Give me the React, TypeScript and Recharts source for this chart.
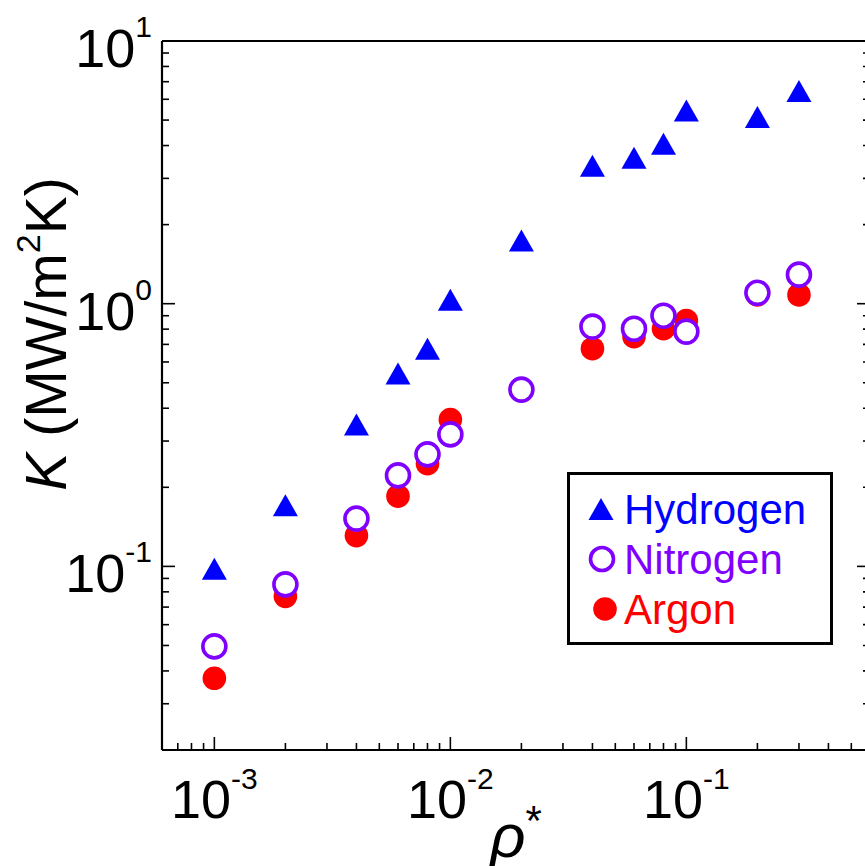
import React from "react";
import { ScatterChart, Scatter, XAxis, YAxis, Legend } from "recharts";

// reduced density rho* (x) and conductance K in MW/m^2K (y)
const rho = [0.001, 0.002, 0.004, 0.006, 0.008, 0.01, 0.02, 0.04, 0.06, 0.08, 0.1, 0.2, 0.3];
const hydrogen = [0.098, 0.171, 0.347, 0.542, 0.674, 1.036, 1.74, 3.35, 3.59, 4.06, 5.44, 5.14, 6.45];
const nitrogen = [0.0496, 0.0854, 0.152, 0.222, 0.267, 0.318, 0.471, 0.818, 0.803, 0.9, 0.783, 1.1, 1.29];
const argon = [0.0375, 0.0769, 0.131, 0.185, 0.246, 0.362, 0.47, 0.674, 0.749, 0.803, 0.862, 1.08, 1.08];

const xMajor = [0.001, 0.01, 0.1];
const xExp = ["-3", "-2", "-1"];
const xMinor = [
  0.0007, 0.0008, 0.0009,
  0.002, 0.003, 0.004, 0.005, 0.006, 0.007, 0.008, 0.009,
  0.02, 0.03, 0.04, 0.05, 0.06, 0.07, 0.08, 0.09,
  0.2, 0.3, 0.4, 0.5,
];
const yMajor = [0.1, 1, 10];
const yExp = ["-1", "0", "1"];
const yMinor = [
  0.03, 0.04, 0.05, 0.06, 0.07, 0.08, 0.09,
  0.2, 0.3, 0.4, 0.5, 0.6, 0.7, 0.8, 0.9,
  2, 3, 4, 5, 6, 7, 8, 9,
];

const FONT = "'Liberation Sans', Arial, sans-serif";
const BLUE = "#0000ff";
const PURPLE = "#7f00ff";
const RED = "#ff0000";

const toPoints = (ys: number[]) => rho.map((x, i) => ({ x, y: ys[i] }));

const xTicks = [...xMajor, ...xMinor];
const yTicks = [...yMajor, ...yMinor];

function Triangle({ cx, cy, fill }: any) {
  return (
    <polygon
      points={`${cx},${cy - 11} ${cx - 12.5},${cy + 11} ${cx + 12.5},${cy + 11}`}
      fill={fill}
    />
  );
}

function Ring({ cx, cy }: any) {
  return <circle cx={cx} cy={cy} r={11.5} fill="#fff" stroke={PURPLE} strokeWidth={3.6} />;
}

function Dot({ cx, cy }: any) {
  return <circle cx={cx} cy={cy} r={11.8} fill={RED} />;
}

function BottomTick({ x, y, payload }: any) {
  const i = xMajor.indexOf(payload.value);
  const len = i >= 0 ? 13 : 7;
  return (
    <g>
      <line x1={x} y1={y} x2={x} y2={y - len} stroke="#000" strokeWidth={1.6} />
      {i >= 0 && (
        <text x={x} y={y + 68} textAnchor="middle" fontSize={54} fontFamily={FONT} fill="#000">
          10<tspan dy={-29} fontSize={30}>{xExp[i]}</tspan>
        </text>
      )}
    </g>
  );
}

function TopTick({ x, y, payload }: any) {
  const len = xMajor.includes(payload.value) ? 13 : 7;
  return <line x1={x} y1={y} x2={x} y2={y + len} stroke="#000" strokeWidth={1.6} />;
}

function LeftTick({ x, y, payload }: any) {
  const i = yMajor.indexOf(payload.value);
  const len = i >= 0 ? 13 : 7;
  return (
    <g>
      <line x1={x} y1={y} x2={x + len} y2={y} stroke="#000" strokeWidth={1.6} />
      {i >= 0 && (
        <text x={x - 10} y={y + 26} textAnchor="end" fontSize={54} fontFamily={FONT} fill="#000">
          10<tspan dy={-30} fontSize={30}>{yExp[i]}</tspan>
        </text>
      )}
    </g>
  );
}

function RightTick({ x, y, payload }: any) {
  const len = yMajor.includes(payload.value) ? 13 : 7;
  return <line x1={x} y1={y} x2={x - len} y2={y} stroke="#000" strokeWidth={1.6} />;
}

function YTitle() {
  const x = 66;
  const y = 334;
  return (
    <text
      x={x}
      y={y}
      transform={`rotate(-90 ${x} ${y})`}
      textAnchor="middle"
      fontSize={57}
      fontFamily={FONT}
      fill="#000"
    >
      <tspan fontStyle="italic">K</tspan> (MW/m<tspan dy={-26} fontSize={34}>2</tspan>
      <tspan dy={26}>K)</tspan>
    </text>
  );
}

function XTitle() {
  return (
    <text x={516} y={857} textAnchor="middle" fontSize={62} fontFamily={FONT} fill="#000">
      <tspan fontStyle="italic">ρ</tspan>
      <tspan dy={-22} fontSize={42}>*</tspan>
    </text>
  );
}

const legendItems = [
  { name: "Hydrogen", color: BLUE },
  { name: "Nitrogen", color: PURPLE },
  { name: "Argon", color: RED },
];

function LegendBox() {
  return (
    <svg width={268} height={175} style={{ display: "block" }}>
      <rect x={1.5} y={1.5} width={263} height={170} fill="#fff" stroke="#000" strokeWidth={3} />
      {legendItems.map((item, i) => {
        const cy = 37 + i * 50;
        return (
          <g key={item.name}>
            {i === 0 && <Triangle cx={34} cy={cy} fill={item.color} />}
            {i === 1 && <Ring cx={35} cy={cy} />}
            {i === 2 && <Dot cx={38} cy={cy} />}
            <text x={57} y={cy + 15} fontSize={42} fontFamily={FONT} fill={item.color}>
              {item.name}
            </text>
          </g>
        );
      })}
    </svg>
  );
}

export default function App() {
  return (
    <div style={{ width: 865, height: 866, overflow: "hidden", background: "#fff", position: "relative" }}>
      <style>{`body{margin:0}`}</style>
      <ScatterChart
        width={875}
        height={866}
        margin={{ top: 0, left: 0, right: 0, bottom: 0 }}
      >
        <XAxis
          xAxisId={0}
          dataKey="x"
          type="number"
          scale="log"
          domain={[0.0006, 0.6]}
          allowDataOverflow
          ticks={xTicks}
          interval={0}
          height={116}
          tickSize={0}
          tickMargin={0}
          tickLine={false}
          tick={(p: any) => <BottomTick {...p} />}
          axisLine={{ stroke: "#000", strokeWidth: 2.2 }}
        />
        <XAxis
          xAxisId="top"
          orientation="top"
          type="number"
          scale="log"
          domain={[0.0006, 0.6]}
          allowDataOverflow
          ticks={xTicks}
          interval={0}
          height={41}
          tickSize={0}
          tickMargin={0}
          tickLine={false}
          tick={(p: any) => <TopTick {...p} />}
          axisLine={{ stroke: "#000", strokeWidth: 2.2 }}
        />
        <YAxis
          yAxisId={0}
          dataKey="y"
          type="number"
          scale="log"
          domain={[0.02, 10]}
          allowDataOverflow
          ticks={yTicks}
          interval={0}
          width={162}
          tickSize={0}
          tickMargin={0}
          tickLine={false}
          tick={(p: any) => <LeftTick {...p} />}
          axisLine={{ stroke: "#000", strokeWidth: 2.2 }}
        />
        <YAxis
          yAxisId="right"
          orientation="right"
          type="number"
          scale="log"
          domain={[0.02, 10]}
          allowDataOverflow
          ticks={yTicks}
          interval={0}
          width={5}
          tickSize={0}
          tickMargin={0}
          tickLine={false}
          tick={(p: any) => <RightTick {...p} />}
          axisLine={{ stroke: "#000", strokeWidth: 2.2 }}
        />
        <Legend
          layout="vertical"
          align="center"
          verticalAlign="middle"
          content={() => <LegendBox />}
          wrapperStyle={{ left: 567, top: 472, width: 268, height: 175 }}
        />
        <Scatter
          name="Argon"
          data={toPoints(argon)}
          isAnimationActive={false}
          shape={(p: any) => <Dot cx={p.cx} cy={p.cy} />}
        />
        <Scatter
          name="Nitrogen"
          data={toPoints(nitrogen)}
          isAnimationActive={false}
          shape={(p: any) => <Ring cx={p.cx} cy={p.cy} />}
        />
        <Scatter
          name="Hydrogen"
          data={toPoints(hydrogen)}
          isAnimationActive={false}
          shape={(p: any) => <Triangle cx={p.cx} cy={p.cy} fill={BLUE} />}
        />
        <YTitle />
        <XTitle />
      </ScatterChart>
    </div>
  );
}
